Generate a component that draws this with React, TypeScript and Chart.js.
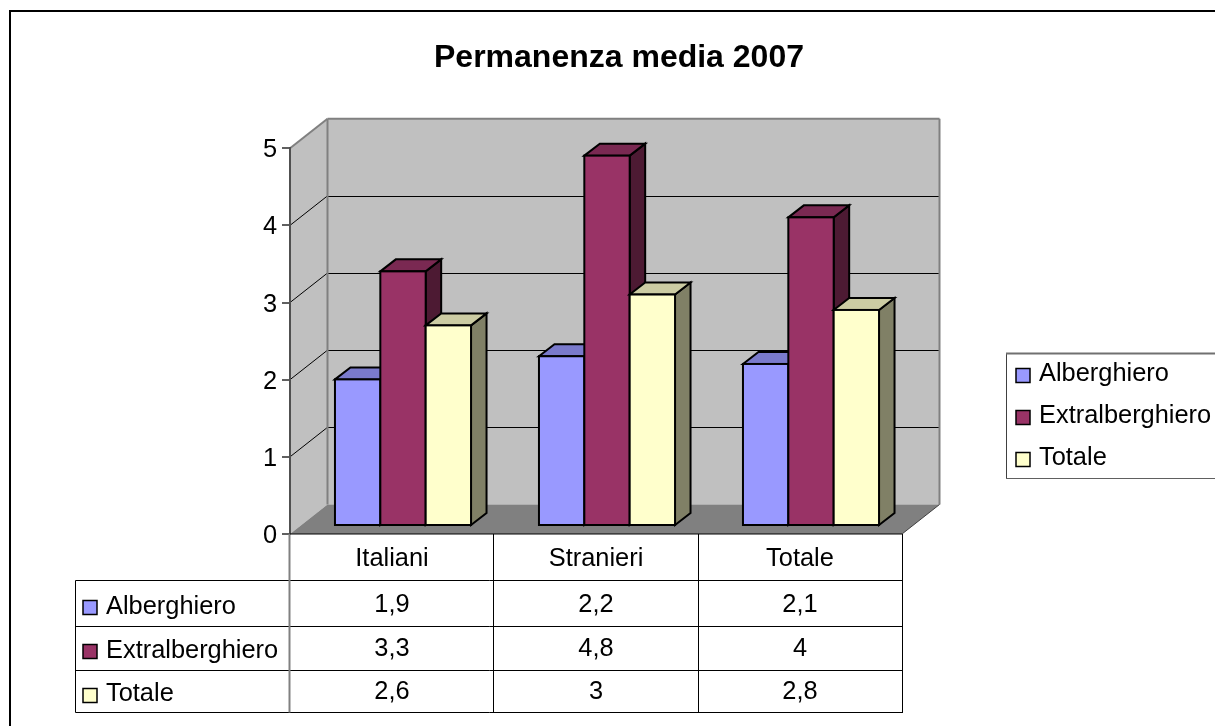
import React, { useEffect, useRef } from "react";
import { Chart, registerables } from "chart.js";

Chart.register(...registerables);

const categories = ["Italiani", "Stranieri", "Totale"];
const seriesNames = ["Alberghiero", "Extralberghiero", "Totale"];
const alberghiero = [1.9, 2.2, 2.1];
const extralberghiero = [3.3, 4.8, 4];
const totale = [2.6, 3, 2.8];
const seriesValues = [alberghiero, extralberghiero, totale];
const yTicks = [0, 1, 2, 3, 4, 5];
const titleText = "Permanenza media 2007";

const fronts = ["#9999FF", "#993366", "#FFFFCC"];
const tops = ["#7A7ACC", "#7A2952", "#CCCCA3"];
const sides = ["#4D4D80", "#4D1A33", "#808066"];

const FONT = "'Liberation Sans', Arial, sans-serif";
const TEXT = 25.4;
const WALL_DX = 37.5;
const WALL_DY = 29.5;
const BAR_SHIFT_X = 11;
const BAR_SHIFT_Y = 8;
const BAR_DX = 15.5;
const BAR_DY = 12;

const fmt = (v: number) => String(v).replace(".", ",");

const poly = (ctx: CanvasRenderingContext2D, pts: number[][], fill?: string, stroke?: string, lw = 1) => {
  ctx.beginPath();
  pts.forEach((p, i) => (i ? ctx.lineTo(p[0], p[1]) : ctx.moveTo(p[0], p[1])));
  ctx.closePath();
  if (fill) {
    ctx.fillStyle = fill;
    ctx.fill();
  }
  if (stroke) {
    ctx.strokeStyle = stroke;
    ctx.lineWidth = lw;
    ctx.stroke();
  }
};

const line = (ctx: CanvasRenderingContext2D, x1: number, y1: number, x2: number, y2: number, color: string, lw = 1) => {
  ctx.beginPath();
  ctx.moveTo(x1, y1);
  ctx.lineTo(x2, y2);
  ctx.strokeStyle = color;
  ctx.lineWidth = lw;
  ctx.stroke();
};

const scene3d = {
  id: "scene3d",
  afterLayout(chart: any) {
    // the title is centred on the whole (partly cropped) chart object
    chart.titleBlock.left = 0;
    chart.titleBlock.right = chart.width;
  },
  beforeDraw(chart: any) {
    const { ctx, chartArea: a, scales } = chart;
    const y = scales.y;
    ctx.save();
    ctx.fillStyle = "#fff";
    ctx.fillRect(0, 0, chart.width, chart.height);
    // outer frame
    line(ctx, 10, 11, chart.width, 11, "#000", 2);
    line(ctx, 10, 10, 10, chart.height, "#000", 2);
    const bx = a.left + WALL_DX;
    const rx = a.right + WALL_DX;
    const ty = a.top - WALL_DY;
    const by = a.bottom - WALL_DY;
    poly(ctx, [[bx, ty], [rx, ty], [rx, by], [bx, by]], "#C0C0C0");
    poly(ctx, [[a.left, a.top], [bx, ty], [bx, by], [a.left, a.bottom]], "#C0C0C0");
    poly(ctx, [[a.left, a.bottom], [a.right, a.bottom], [rx, by], [bx, by]], "#808080");
    yTicks.slice(1, -1).forEach((t) => {
      const p = y.getPixelForValue(t);
      line(ctx, a.left, p, bx, p - WALL_DY, "#000", 1);
      line(ctx, bx, Math.round(p - WALL_DY) + 0.5, rx, Math.round(p - WALL_DY) + 0.5, "#000", 1);
    });
    line(ctx, bx, ty, bx, by, "#808080", 2);
    line(ctx, a.left, a.top, bx, ty, "#808080", 2);
    line(ctx, bx, ty, rx, ty, "#808080", 2);
    line(ctx, rx, ty, rx, by, "#808080", 2);
    line(ctx, a.right, a.bottom, rx, by, "#404040", 1);
    ctx.restore();
  },
  beforeDatasetDraw() {
    return false;
  },
  beforeDatasetsDraw(chart: any) {
    const { ctx } = chart;
    ctx.save();
    ctx.translate(BAR_SHIFT_X, -BAR_SHIFT_Y);
    ctx.lineJoin = "miter";
    seriesValues.forEach((_, ds) => {
      chart.getDatasetMeta(ds).data.forEach((bar: any) => {
        const { x, y, base, width } = bar.getProps(["x", "y", "base", "width"]);
        const l = x - width / 2;
        const r = x + width / 2;
        poly(ctx, [[r, y], [r + BAR_DX, y - BAR_DY], [r + BAR_DX, base - BAR_DY], [r, base]], sides[ds], "#000", 2);
        poly(ctx, [[l, y], [l + BAR_DX, y - BAR_DY], [r + BAR_DX, y - BAR_DY], [r, y]], tops[ds], "#000", 2);
        bar.draw(ctx);
        ctx.strokeStyle = "#000";
        ctx.lineWidth = 2;
        ctx.strokeRect(l, y, width, base - y);
      });
    });
    ctx.restore();
  },
  afterDraw(chart: any) {
    const { ctx, chartArea: a, scales } = chart;
    const xs = scales.x;
    ctx.save();
    // data table grid
    const left = 75.5;
    const rowLines = [580.5, 626.5, 670.5, 712.5];
    const cols = categories.map((_, i) => Math.round(a.left + ((i + 1) * (a.right - a.left)) / categories.length) + (i === 0 ? -0.5 : 0.5));
    rowLines.forEach((y) => line(ctx, left, y, cols[cols.length - 1] + 0.5, y, "#000", 1));
    line(ctx, left, rowLines[0], left, rowLines[3], "#000", 1);
    cols.forEach((x) => line(ctx, x, a.bottom, x, rowLines[3], "#000", 1));
    line(ctx, a.left, a.bottom, a.right, a.bottom, "#000", 1);
    line(ctx, a.left - 0.5, a.bottom, a.left - 0.5, rowLines[3], "#808080", 2);

    ctx.font = `${TEXT}px ${FONT}`;
    ctx.fillStyle = "#000";
    ctx.textBaseline = "alphabetic";
    const swatchY = [600.5, 644.5, 688.5];
    const labelBase = [614, 658, 701];
    const valueBase = [612, 656, 699];
    seriesNames.forEach((name, s) => {
      poly(ctx, [[83, swatchY[s]], [97, swatchY[s]], [97, swatchY[s] + 14], [83, swatchY[s] + 14]], fronts[s], "#000", 1.5);
      ctx.fillStyle = "#000";
      ctx.textAlign = "left";
      ctx.fillText(name, 106, labelBase[s]);
      ctx.textAlign = "center";
      seriesValues[s].forEach((v, c) => ctx.fillText(fmt(v), xs.getPixelForValue(c), valueBase[s]));
    });

    // legend
    ctx.textAlign = "left";
    line(ctx, 1006.5, 353, 1006.5, 479, "#404040", 1);
    line(ctx, 1006, 353.5, 1215, 353.5, "#707070", 2);
    line(ctx, 1006, 478.5, 1215, 478.5, "#606060", 1);
    const legendBox = [368.5, 410.5, 452.5];
    const legendBase = [381, 423, 465];
    seriesNames.forEach((name, s) => {
      poly(ctx, [[1016, legendBox[s]], [1030, legendBox[s]], [1030, legendBox[s] + 14], [1016, legendBox[s] + 14]], fronts[s], "#000", 1.5);
      ctx.fillStyle = "#000";
      ctx.fillText(name, 1039, legendBase[s]);
    });
    ctx.restore();
  },
};

export default function App() {
  const ref = useRef<HTMLCanvasElement>(null);
  useEffect(() => {
    document.body.style.margin = "0";
    document.body.style.overflow = "hidden";
    const chart = new Chart(ref.current as HTMLCanvasElement, {
      type: "bar",
      data: {
        labels: categories,
        datasets: seriesNames.map((name, i) => ({
          label: name,
          data: seriesValues[i],
          backgroundColor: fronts[i],
          borderWidth: 0,
          categoryPercentage: 0.667,
          barPercentage: 1,
        })),
      },
      options: {
        responsive: false,
        animation: false,
        layout: { padding: { left: 0, top: 0, right: 336, bottom: 0 } },
        plugins: {
          legend: { display: false },
          tooltip: { enabled: false },
          title: {
            display: true,
            text: titleText,
            color: "#000",
            font: { family: FONT, size: 32, weight: "bold", lineHeight: 1.2 },
            padding: { top: 39, bottom: 70.8 },
          },
        },
        scales: {
          x: {
            afterFit: (s: any) => {
              s.height = 192;
            },
            grid: { display: false },
            border: { display: false },
            ticks: { color: "#000", font: { family: FONT, size: TEXT }, padding: 2, maxRotation: 0 },
          },
          y: {
            min: 0,
            max: 5,
            afterFit: (s: any) => {
              s.width = 290;
            },
            afterBuildTicks: (s: any) => {
              s.ticks = yTicks.map((value) => ({ value }));
            },
            grid: { drawOnChartArea: false, drawTicks: true, tickLength: 8, color: "#606060", lineWidth: 2 },
            border: { display: true, color: "#505050", width: 2 },
            ticks: { color: "#000", font: { family: FONT, size: TEXT }, padding: 5, labelOffset: 2 },
          },
        },
      },
      plugins: [scene3d],
    } as any);
    return () => chart.destroy();
  }, []);
  return (
    <div style={{ position: "absolute", left: 0, top: 0, width: 1215, height: 726, overflow: "hidden", background: "#fff" }}>
      <canvas ref={ref} width={1238} height={726} style={{ display: "block" }} />
    </div>
  );
}
